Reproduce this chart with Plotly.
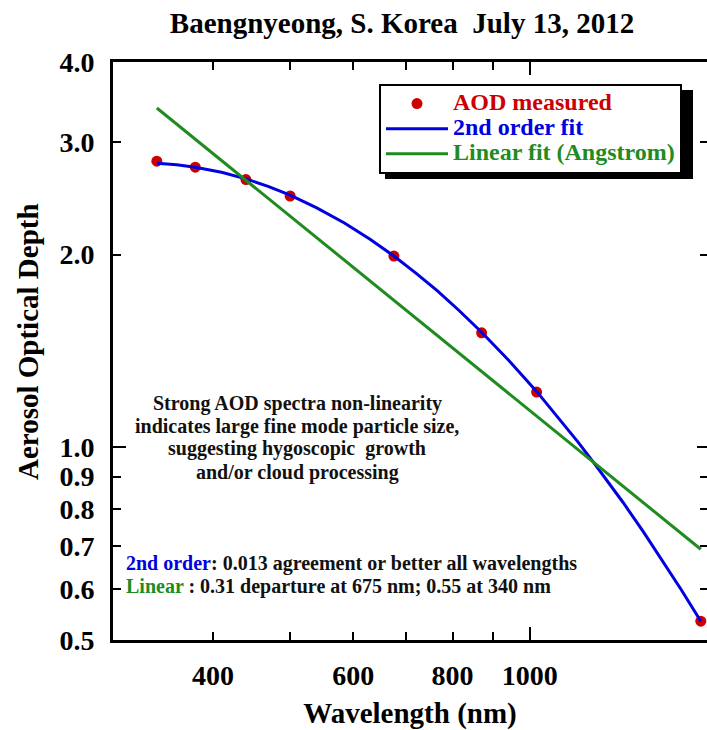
import plotly.graph_objects as go

# AERONET channel wavelengths and measured aerosol optical depth
wavelength_nm = [340, 380, 440, 500, 675, 870, 1020, 1640]
aod_measured = [2.80, 2.74, 2.62, 2.47, 1.99, 1.51, 1.22, 0.535]

# 2nd order (log-log quadratic) fit curve
fit2_wavelength = [340, 360, 380, 410, 440, 470, 500, 540, 585, 630, 675, 720, 765,
                   815, 870, 940, 1020, 1090, 1150, 1200, 1260, 1310, 1390, 1470, 1550, 1640]
fit2_aod = [2.778, 2.764, 2.740, 2.690, 2.627, 2.555, 2.477, 2.367, 2.241, 2.114, 1.990,
            1.870, 1.757, 1.636, 1.513, 1.369, 1.223, 1.108, 1.019, 0.951, 0.877, 0.820,
            0.737, 0.664, 0.599, 0.535]

# Linear (Angstrom) fit: straight line in log-log space
lin_wavelength = [340, 1640]
lin_aod = [3.39, 0.693]

x_ticks = [400, 500, 600, 700, 800, 900, 1000]
x_ticktext = ["400", "", "600", "", "800", "", "1000"]
y_ticks = [0.5, 0.6, 0.7, 0.8, 0.9, 1.0, 2.0, 3.0, 4.0]
y_ticktext = ["0.5", "0.6", "0.7", "0.8", "0.9", "1.0", "2.0", "3.0", "4.0"]

RED = "#cc0000"
BLUE = "#0000e0"
GREEN = "#1f8c1f"
FONT = "Liberation Serif"

x_range = [2.47643, 3.22266]
y_range = [-0.30103, 0.60206]

# plot-area geometry in pixels, used to place paper-referenced items
L, T, W, H = 113, 62, 594, 578


def px(xp):
    return (xp - L) / W


def py(yp):
    return (T + H - yp) / H


fig = go.Figure()

fig.add_trace(go.Scatter(
    x=wavelength_nm, y=aod_measured, mode="markers",
    marker=dict(color=RED, size=11),
    name=f"<span style='color:{RED};font-size:24px'>AOD measured</span>",
))
fig.add_trace(go.Scatter(
    x=fit2_wavelength, y=fit2_aod, mode="lines",
    line=dict(color=BLUE, width=3),
    name=f"<span style='color:{BLUE};font-size:24px'>2nd order fit</span>",
))
fig.add_trace(go.Scatter(
    x=lin_wavelength, y=lin_aod, mode="lines",
    line=dict(color=GREEN, width=3),
    name=f"<span style='color:{GREEN};font-size:24px'>Linear fit (Angstrom)</span>",
))

# empty traces that carry the extra tick axes
for xa, ya in [("x2", "y"), ("x", "y2"), ("x", "y3")]:
    fig.add_trace(go.Scatter(x=[], y=[], xaxis=xa, yaxis=ya,
                             showlegend=False, hoverinfo="skip"))

tickfont = dict(family=FONT, size=28, color="black", weight="bold")

fig.update_layout(
    width=707, height=730,
    margin=dict(l=L, r=707 - L - W, t=T, b=730 - T - H),
    paper_bgcolor="white", plot_bgcolor="white",
    font=dict(family=FONT, color="black", weight="bold"),
    title=dict(
        text="Baengnyeong, S. Korea\u00a0\u00a0July 13, 2012",
        font=dict(family=FONT, size=29, color="black", weight="bold"),
        x=402 / 707, xref="container", xanchor="center",
        y=1 - 23 / 730, yref="container", yanchor="middle",
    ),
    xaxis=dict(
        type="log", range=x_range,
        tickmode="array", tickvals=x_ticks, ticktext=x_ticktext,
        ticks="inside", ticklen=8, tickwidth=1.5, tickcolor="black",
        showline=True, linewidth=3, linecolor="black", mirror="ticks",
        showgrid=False, zeroline=False,
        tickfont=tickfont, ticklabelstandoff=8,
        title=dict(text="Wavelength (nm)",
                   font=dict(family=FONT, size=29, color="black", weight="bold"),
                   standoff=19),
    ),
    xaxis2=dict(
        type="log", range=x_range, overlaying="x", anchor="y",
        tickmode="array", tickvals=[1000],
        ticks="inside", ticklen=13, tickwidth=1.5, tickcolor="black",
        showticklabels=False, showline=False, mirror="ticks",
        showgrid=False, zeroline=False,
    ),
    yaxis=dict(
        type="log", range=y_range,
        tickmode="array", tickvals=y_ticks, ticktext=y_ticktext,
        ticks="inside", ticklen=8, tickwidth=1.5, tickcolor="black",
        showline=True, linewidth=3, linecolor="black", mirror=False,
        showgrid=False, zeroline=False,
        tickfont=tickfont, ticklabelstandoff=10,
    ),
    yaxis2=dict(
        type="log", range=y_range, overlaying="y", anchor="x", side="left",
        tickmode="array", tickvals=[1.0],
        ticks="inside", ticklen=13, tickwidth=1.5, tickcolor="black",
        showticklabels=False, showline=False,
        showgrid=False, zeroline=False,
    ),
    yaxis3=dict(
        type="log", range=y_range, overlaying="y", anchor="x", side="right",
        tickmode="array", tickvals=[1.0],
        ticks="inside", ticklen=10, tickwidth=1.5, tickcolor="black",
        minor=dict(tickmode="array", tickvals=[0.5, 0.6, 0.7, 0.8, 0.9, 2.0, 3.0, 4.0],
                   ticks="inside", ticklen=7, tickwidth=1.5, tickcolor="black"),
        showticklabels=False, showline=False,
        showgrid=False, zeroline=False,
    ),
    legend=dict(
        x=px(379), y=py(84),
        xanchor="left", yanchor="top",
        bgcolor="white", bordercolor="black", borderwidth=2,
        font=dict(family=FONT, size=17, color="black", weight="bold"),
        itemwidth=62, tracegroupgap=0,
    ),
    showlegend=True,
)

# y-axis title
fig.add_annotation(text="Aerosol Optical Depth", xref="paper", yref="paper",
                   x=px(28), y=py(342), textangle=-90,
                   xanchor="center", yanchor="middle", showarrow=False,
                   font=dict(family=FONT, size=29, color="black", weight="bold"))

# drop shadow behind the legend box
fig.add_shape(type="rect", xref="paper", yref="paper",
              x0=px(385), x1=px(693), y0=py(179), y1=py(90),
              fillcolor="black", line=dict(width=0), layer="above")

note_lines = [
    "Strong AOD spectra non-linearity",
    "indicates large fine mode particle size,",
    "suggesting hygoscopic\u00a0\u00a0growth",
    "and/or cloud processing",
]
note_y = [403, 426, 449, 472]
for line, yp in zip(note_lines, note_y):
    fig.add_annotation(text=line, xref="paper", yref="paper",
                       x=px(297), y=py(yp),
                       xanchor="center", yanchor="middle", showarrow=False,
                       font=dict(family=FONT, size=20, color="#111111", weight="bold"))

fit_notes = [
    (f"<span style='color:{BLUE}'>2nd order</span>: 0.013 agreement or better all wavelengths", 563),
    (f"<span style='color:{GREEN}'>Linear</span> : 0.31 departure at 675 nm; 0.55 at 340 nm", 586),
]
for text, yp in fit_notes:
    fig.add_annotation(text=text, xref="paper", yref="paper",
                       x=px(124), y=py(yp),
                       xanchor="left", yanchor="middle", showarrow=False,
                       font=dict(family=FONT, size=20, color="#111111", weight="bold"))

fig.write_html("out.html")
